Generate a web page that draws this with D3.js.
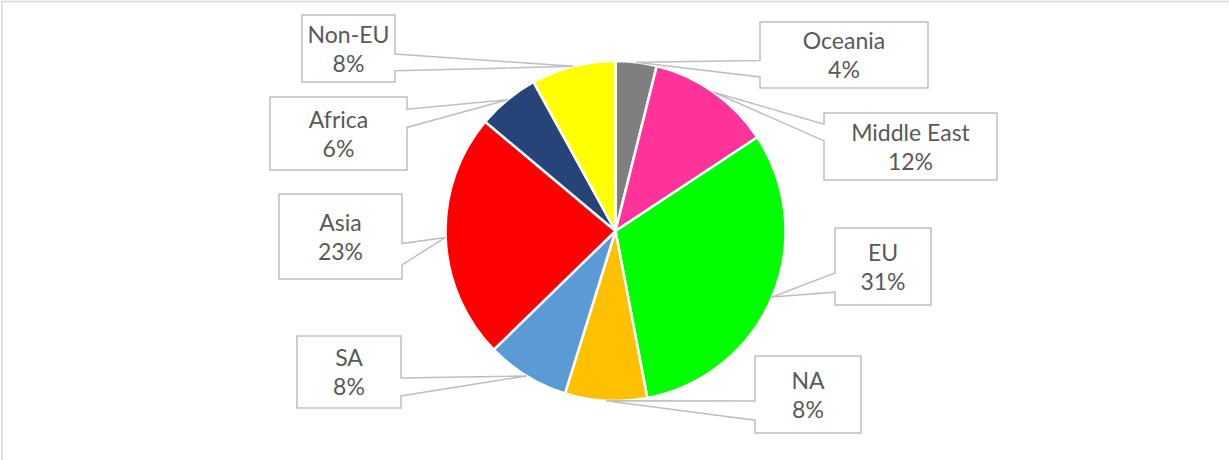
<!DOCTYPE html>
<html>
<head>
<meta charset="utf-8">
<script src="https://cdn.jsdelivr.net/npm/d3@7"></script>
<style>
  body { margin: 0; background: #fff; }
  svg { display: block; }
</style>
</head>
<body>
<svg width="1229" height="460"></svg>
<script>
// regions, clockwise from 12 o'clock
var regions = ["Oceania", "Middle East", "EU", "NA", "SA", "Asia", "Africa", "Non-EU"];
var shares  = [3.9, 11.8, 31.3, 7.8, 7.9, 23.4, 5.9, 8.0];
var colors  = ["#7f7f7f", "#ff3399", "#00ff00", "#ffc000", "#5b9bd5", "#ff0000", "#264478", "#ffff00"];

// callout boxes [x, y, w, h]
var boxes = [
    [760, 22, 168, 66],
    [824, 113, 173, 67],
    [835, 228, 96, 77],
    [755, 356, 106, 77],
    [297, 336, 104, 72],
    [279, 194, 123, 85],
    [270, 97, 137, 73],
    [302, 15, 93, 67]
];

var svg = d3.select("svg");
var cx = 615.5, cy = 231, radius = 170;

// chart frame (only top + left show in the picture)
svg.append("line").attr("x1", 1).attr("y1", 1.5).attr("x2", 1229).attr("y2", 1.5)
    .style("stroke", "#d9d9d9").style("stroke-width", 1.5);
svg.append("line").attr("x1", 2).attr("y1", 1).attr("x2", 2).attr("y2", 460)
    .style("stroke", "#d9d9d9").style("stroke-width", 1.5);

var total = d3.sum(shares);
var pie = d3.pie().sort(null).value(function(d){ return d; });
var arcs = pie(shares);
var arc = d3.arc().innerRadius(0).outerRadius(radius);

var g = svg.append("g").attr("transform", "translate(" + cx + "," + cy + ")");
g.selectAll("path")
    .data(arcs)
  .enter().append("path")
    .attr("d", arc)
    .style("fill", function(d, i){ return colors[i]; })
    .style("stroke", "#fff")
    .style("stroke-width", 2.5)
    .style("stroke-linejoin", "round");

// wedge-rect callout like excel draws it
function callout(b, tip) {
    var x = b[0], y = b[1], w = b[2], h = b[3];
    var dx = tip[0] - (x + w / 2), dy = tip[1] - (y + h / 2);
    var p;
    if (Math.abs(dx) * h > Math.abs(dy) * w) {
        var y1 = dy > 0 ? y + h * 7 / 12 : y + h * 2 / 12;
        var y2 = dy > 0 ? y + h * 10 / 12 : y + h * 5 / 12;
        if (dx > 0) {
            p = [[x, y], [x + w, y], [x + w, y1], tip, [x + w, y2], [x + w, y + h], [x, y + h]];
        } else {
            p = [[x, y], [x + w, y], [x + w, y + h], [x, y + h], [x, y2], tip, [x, y1]];
        }
    } else {
        var x1 = dx > 0 ? x + w * 7 / 12 : x + w * 2 / 12;
        var x2 = dx > 0 ? x + w * 10 / 12 : x + w * 5 / 12;
        if (dy > 0) {
            p = [[x, y], [x + w, y], [x + w, y + h], [x2, y + h], tip, [x1, y + h], [x, y + h]];
        } else {
            p = [[x, y], [x1, y], tip, [x2, y], [x + w, y], [x + w, y + h], [x, y + h]];
        }
    }
    return "M" + p.map(function(q){ return q[0] + "," + q[1]; }).join("L") + "Z";
}

var labels = svg.append("g").selectAll("g")
    .data(arcs)
  .enter().append("g");

labels.append("path")
    .attr("d", function(d, i) {
        var a = (d.startAngle + d.endAngle) / 2;
        var tip = [cx + radius * Math.sin(a), cy - radius * Math.cos(a)];
        return callout(boxes[i], tip);
    })
    .style("fill", "#fff")
    .style("stroke", "#bfbfbf")
    .style("stroke-width", 1.5)
    .style("stroke-linejoin", "miter");

labels.append("text")
    .attr("x", function(d, i){ return boxes[i][0] + boxes[i][2] / 2; })
    .attr("y", function(d, i){ return boxes[i][1] + boxes[i][3] / 2 - 6; })
    .attr("text-anchor", "middle")
    .style("font-family", "Lato, 'Open Sans', sans-serif")
    .style("font-size", "23px")
    .style("fill", "#595959")
    .text(function(d, i){ return regions[i]; });

labels.append("text")
    .attr("x", function(d, i){ return boxes[i][0] + boxes[i][2] / 2; })
    .attr("y", function(d, i){ return boxes[i][1] + boxes[i][3] / 2 + 23; })
    .attr("text-anchor", "middle")
    .style("font-family", "Lato, 'Open Sans', sans-serif")
    .style("font-size", "23px")
    .style("fill", "#595959")
    .text(function(d){ return Math.round(d.value / total * 100) + "%"; });
</script>
</body>
</html>
